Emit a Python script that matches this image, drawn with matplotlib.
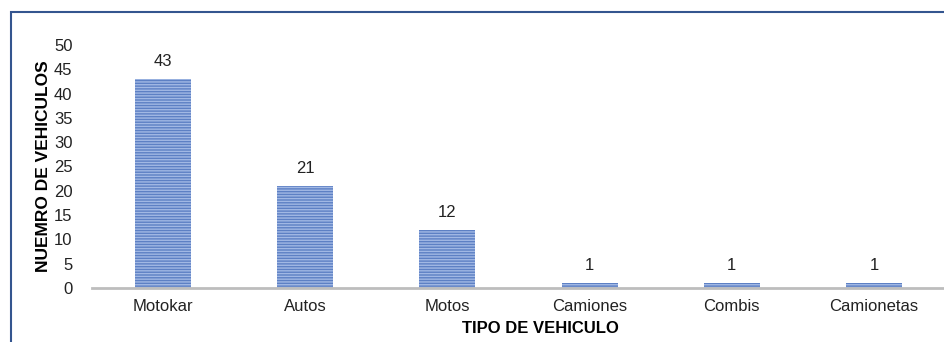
import matplotlib.pyplot as plt
from matplotlib.patches import Rectangle

plt.rcParams['font.family'] = ['Liberation Sans', 'DejaVu Sans']
plt.rcParams['hatch.linewidth'] = 1.0

tipos = ['Motokar', 'Autos', 'Motos', 'Camiones', 'Combis', 'Camionetas']
cantidad = [43, 21, 12, 1, 1, 1]
yticks = [0, 5, 10, 15, 20, 25, 30, 35, 40, 45, 50]

fig = plt.figure(figsize=(9.45, 3.42), dpi=100)
ax = fig.add_axes([92 / 945, 54 / 342, 853 / 945, 243 / 342])

x = list(range(len(tipos)))
bars = ax.bar(x, cantidad, width=0.395, color='#5d80c4', edgecolor='#a1b8e4',
              hatch='------', linewidth=0)
for b in bars:
    b.set_edgecolor('#a1b8e4')

for xi, v in zip(x, cantidad):
    ax.annotate(str(v), (xi, v), xytext=(0, 7), textcoords='offset points',
                ha='center', va='bottom', fontsize=12, color='#222222')

ax.set_xlim(-0.5, len(tipos) - 0.5)
ax.set_ylim(0, 50)
ax.set_yticks(yticks)
ax.set_xticks(x)
ax.set_xticklabels(tipos)
ax.tick_params(axis='both', length=0, labelsize=12, labelcolor='#222222')
ax.tick_params(axis='y', pad=14)
ax.tick_params(axis='x', pad=8)

for s in ['top', 'right', 'left']:
    ax.spines[s].set_visible(False)
ax.spines['bottom'].set_color('#bdbdbd')
ax.spines['bottom'].set_linewidth(2)

ax.set_ylabel('NUEMRO DE VEHICULOS', fontsize=12.5, fontweight='bold')
ax.yaxis.set_label_coords(-41 / 853, 0.5)
ax.set_xlabel('TIPO DE VEHICULO', fontsize=12, fontweight='bold')
ax.xaxis.set_label_coords(448 / 853, -33 / 243)

# outer chart frame
frame = Rectangle((10.5 / 945, -0.2), 1.2, (342 - 12.5) / 342 + 0.2,
                  transform=fig.transFigure, fill=False, edgecolor='#34558f',
                  linewidth=1.5, clip_on=False)
fig.patches.append(frame)

fig.savefig('out.png', dpi=100)
